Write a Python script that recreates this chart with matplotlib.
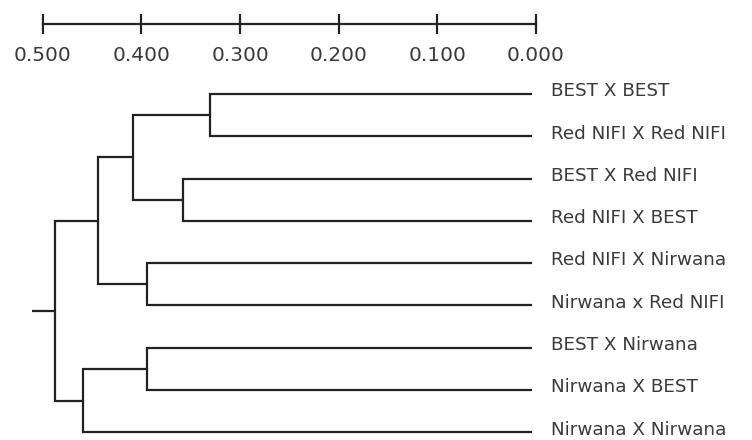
import matplotlib.pyplot as plt

LEAVES = [
    "BEST X BEST",
    "Red NIFI X Red NIFI",
    "BEST X Red NIFI",
    "Red NIFI X BEST",
    "Red NIFI X Nirwana",
    "Nirwana x Red NIFI",
    "BEST X Nirwana",
    "Nirwana X BEST",
    "Nirwana X Nirwana",
]

# (left child, right child, distance); leaves are 0..8, clusters from 9 on
MERGES = [
    (0, 1, 0.326),
    (2, 3, 0.354),
    (9, 10, 0.404),
    (4, 5, 0.390),
    (11, 12, 0.440),
    (6, 7, 0.390),
    (14, 8, 0.455),
    (13, 15, 0.483),
]
ROOT_STUB = 0.507

SCALE_TICKS = [0.5, 0.4, 0.3, 0.2, 0.1, 0.0]

LINE_COLOR = "#222222"
TEXT_COLOR = "#3a3a3a"
LW = 1.6


def draw_tree(ax):
    pos = {i: (0.0, float(i)) for i in range(len(LEAVES))}
    for k, (a, b, h) in enumerate(MERGES):
        xa, ya = pos[a]
        xb, yb = pos[b]
        ax.plot([xa, h, h, xb], [ya, ya, yb, yb], color=LINE_COLOR, lw=LW,
                solid_joinstyle="miter", solid_capstyle="butt")
        pos[len(LEAVES) + k] = (h, (ya + yb) / 2)
    root_x, root_y = pos[len(LEAVES) + len(MERGES) - 1]
    ax.plot([root_x, ROOT_STUB], [root_y, root_y], color=LINE_COLOR, lw=LW,
            solid_capstyle="butt")

    for i, name in enumerate(LEAVES):
        ax.annotate(name, (0, i), xytext=(13.5, 2), textcoords="offset points",
                    va="center", ha="left", fontsize=13.2, color=TEXT_COLOR)


fig = plt.figure(figsize=(7.52, 4.40), dpi=100)
fig.patch.set_facecolor("white")

ax = fig.add_axes([0, 0, 1, 1])
ax.set_xlim(0.539, -0.2229)
ax.set_ylim(8.18, -2.222)
ax.axis("off")
draw_tree(ax)

# scale bar along the top
left = 42.7 / 752
right = 536 / 752
bar_y = 1 - 24 / 440
sax = fig.add_axes([left, bar_y, right - left, 0.001])
sax.set_xlim(SCALE_TICKS[0], SCALE_TICKS[-1])
sax.set_ylim(0, 1)
for s in ["top", "left", "right"]:
    sax.spines[s].set_visible(False)
sax.spines["bottom"].set_linewidth(LW)
sax.spines["bottom"].set_color(LINE_COLOR)
sax.set_yticks([])
sax.set_xticks(SCALE_TICKS)
sax.set_xticklabels([f"{t:.3f}" for t in SCALE_TICKS])
sax.tick_params(axis="x", direction="inout", length=14.4, width=LW,
                color=LINE_COLOR, labelsize=14.5, labelcolor=TEXT_COLOR, pad=8.5)
sax.patch.set_visible(False)

fig.savefig("out.png", dpi=100)
